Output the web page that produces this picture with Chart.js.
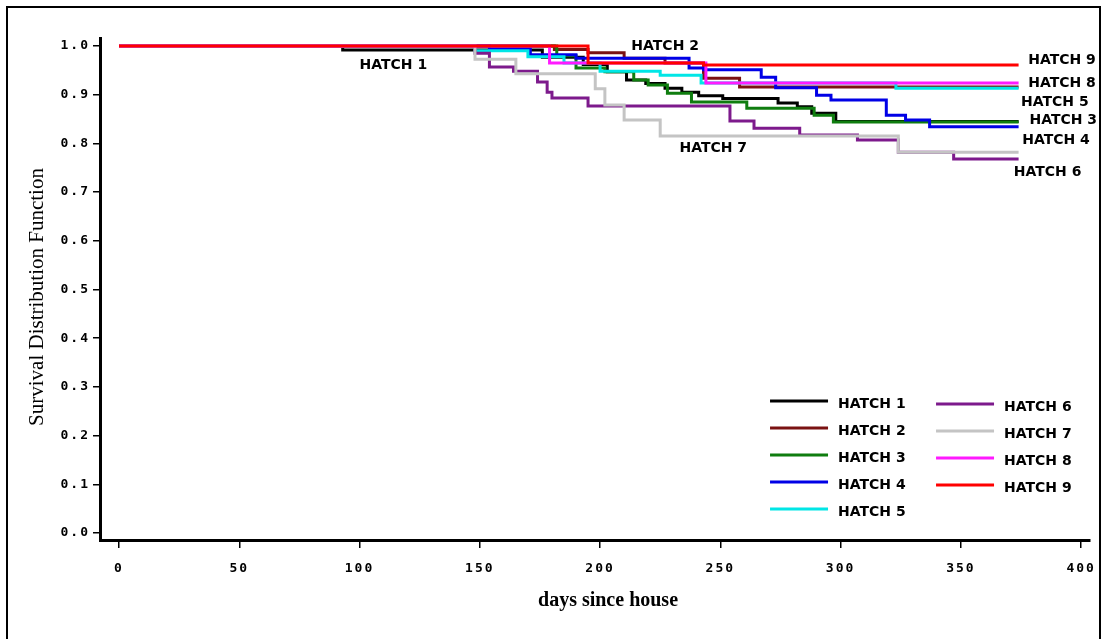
<!DOCTYPE html>
<html>
<head>
<meta charset="utf-8">
<title>Survival Distribution by Hatch</title>
<script src="https://cdn.jsdelivr.net/npm/chart.js@4.4.1/dist/chart.umd.min.js"></script>
<style>
  html, body { margin: 0; padding: 0; background: #fff; }
  #wrap { position: relative; width: 1106px; height: 639px; overflow: hidden; }
  #wrap canvas { position: absolute; left: 0; top: 0; }
  #frame { position: absolute; left: 6px; top: 6px; width: 1095px; height: 700px;
           border: 2px solid #000; box-sizing: border-box; pointer-events: none; }
</style>
</head>
<body>
<div id="wrap">
  <canvas id="survivalChart" width="1106" height="639"></canvas>
  <div id="frame"></div>
</div>
<script>
// Kaplan-Meier step points: day of event and survival from that day on
var hatch1Days = [0, 93, 176, 193, 203, 211, 219, 227, 234, 241, 251, 274, 282, 288, 298, 374];
var hatch1Surv = [1, 0.992, 0.977, 0.962, 0.947, 0.93, 0.923, 0.913, 0.905, 0.898, 0.892, 0.883, 0.875, 0.862, 0.845, 0.845];

var hatch2Days = [0, 181, 195, 210, 227, 243, 258, 374];
var hatch2Surv = [1, 0.993, 0.986, 0.975, 0.965, 0.934, 0.916, 0.916];

var hatch3Days = [0, 182, 190, 202, 214, 220, 228, 238, 261, 289, 297, 374];
var hatch3Surv = [1, 0.98, 0.955, 0.947, 0.93, 0.92, 0.903, 0.885, 0.872, 0.858, 0.844, 0.844];

var hatch4Days = [0, 154, 171, 190, 237, 243, 267, 273, 290, 296, 319, 327, 337, 374];
var hatch4Surv = [1, 0.994, 0.982, 0.975, 0.955, 0.951, 0.936, 0.914, 0.899, 0.889, 0.858, 0.848, 0.834, 0.834];

var hatch5Days = [0, 148, 170, 185, 200, 225, 242, 323, 374];
var hatch5Surv = [1, 0.99, 0.978, 0.965, 0.948, 0.94, 0.924, 0.913, 0.913];

var hatch6Days = [0, 148, 154, 164, 174, 178, 180, 195, 254, 264, 283, 307, 324, 347, 374];
var hatch6Surv = [1, 0.985, 0.957, 0.948, 0.926, 0.905, 0.893, 0.877, 0.846, 0.831, 0.817, 0.807, 0.782, 0.768, 0.768];

var hatch7Days = [0, 148, 165, 198, 202, 210, 225, 324, 374];
var hatch7Surv = [1, 0.973, 0.943, 0.912, 0.879, 0.848, 0.815, 0.782, 0.782];

var hatch8Days = [0, 179, 244, 374];
var hatch8Surv = [1, 0.965, 0.924, 0.924];

var hatch9Days = [0, 195, 243, 374];
var hatch9Surv = [1, 0.965, 0.961, 0.961];

var hatchNames = ['HATCH 1', 'HATCH 2', 'HATCH 3', 'HATCH 4', 'HATCH 5', 'HATCH 6', 'HATCH 7', 'HATCH 8', 'HATCH 9'];
var hatchColors = ['#000000', '#7a1212', '#0f7d0f', '#0000e6', '#00e6e6', '#7d1a8c', '#c4c4c4', '#ff1aff', '#ff0000'];

var dayTicks = [0, 50, 100, 150, 200, 250, 300, 350, 400];
var survTicks = [0, 0.1, 0.2, 0.3, 0.4, 0.5, 0.6, 0.7, 0.8, 0.9, 1.0];

var allDays = [hatch1Days, hatch2Days, hatch3Days, hatch4Days, hatch5Days, hatch6Days, hatch7Days, hatch8Days, hatch9Days];
var allSurv = [hatch1Surv, hatch2Surv, hatch3Surv, hatch4Surv, hatch5Surv, hatch6Surv, hatch7Surv, hatch8Surv, hatch9Surv];

// curve labels placed in data units next to the curves
var curveLabels = [
    { text: 'HATCH 1', day: 100, surv: 0.961 },
    { text: 'HATCH 2', day: 213, surv: 1.0 },
    { text: 'HATCH 7', day: 233, surv: 0.79 },
    { text: 'HATCH 9', day: 378, surv: 0.971 },
    { text: 'HATCH 8', day: 378, surv: 0.924 },
    { text: 'HATCH 5', day: 375, surv: 0.885 },
    { text: 'HATCH 3', day: 378.5, surv: 0.848 },
    { text: 'HATCH 4', day: 375.5, surv: 0.807 },
    { text: 'HATCH 6', day: 372, surv: 0.741 }
];

var labelFont = 'bold 14px "DejaVu Sans"';

var hatchDecor = {
    id: 'hatchDecor',
    beforeDraw: function (chart) {
        // wide spacing for the tick numbers
        chart.ctx.letterSpacing = '2px';
    },
    beforeDatasetsDraw: function (chart) {
        chart.ctx.letterSpacing = '0px';
    },
    afterDraw: function (chart) {
        var ctx = chart.ctx;
        var area = chart.chartArea;
        var xs = chart.scales.x, ys = chart.scales.y;
        ctx.save();
        ctx.letterSpacing = '0px';
        ctx.font = labelFont;
        ctx.fillStyle = '#000';
        ctx.textAlign = 'left';
        ctx.textBaseline = 'middle';
        curveLabels.forEach(function (l) {
            ctx.fillText(l.text, xs.getPixelForValue(l.day), ys.getPixelForValue(l.surv));
        });

        // two column key in the lower right
        chart.data.datasets.forEach(function (ds, i) {
            var col = i < 5 ? 0 : 1;
            var row = col === 0 ? i : i - 5;
            var x0 = col === 0 ? area.right - 320 : area.right - 154;
            var y0 = (col === 0 ? area.bottom - 139 : area.bottom - 136) + row * 27;
            ctx.strokeStyle = ds.borderColor;
            ctx.lineWidth = 3;
            ctx.beginPath();
            ctx.moveTo(x0, y0);
            ctx.lineTo(x0 + 58, y0);
            ctx.stroke();
            ctx.fillText(ds.label, x0 + 68, y0 + 3);
        });

        // axis titles
        ctx.textAlign = 'center';
        ctx.font = '21px "Liberation Serif"';
        ctx.translate(area.left - 63, (area.top + area.bottom) / 2 + 8);
        ctx.rotate(-Math.PI / 2);
        ctx.fillText('Survival Distribution Function', 0, 0);
        ctx.setTransform(1, 0, 0, 1, 0, 0);
        ctx.font = 'bold 20px "Liberation Serif"';
        ctx.fillText('days since house', (area.left + area.right) / 2 + 13, area.bottom + 61);
        ctx.restore();
    }
};

window.onload = function () {
    var datasets = hatchNames.map(function (name, i) {
        return {
            label: name,
            data: allDays[i].map(function (d, j) { return { x: d, y: allSurv[i][j] }; }),
            borderColor: hatchColors[i],
            backgroundColor: hatchColors[i],
            borderWidth: 3,
            pointRadius: 0,
            stepped: true,
            fill: false,
            order: 9 - i
        };
    });

    var ctx = document.getElementById('survivalChart').getContext('2d');
    new Chart(ctx, {
        type: 'line',
        data: { datasets: datasets },
        options: {
            responsive: false,
            animation: false,
            devicePixelRatio: 1,
            layout: { padding: { top: 38, right: 14, left: 0, bottom: 0 } },
            plugins: { legend: { display: false }, tooltip: { enabled: false } },
            scales: {
                x: {
                    type: 'linear',
                    min: -7.9,
                    max: 403.7,
                    afterBuildTicks: function (s) { s.ticks = dayTicks.map(function (v) { return { value: v }; }); },
                    afterFit: function (s) { s.height = 99; },
                    border: { color: '#000', width: 3 },
                    grid: { drawOnChartArea: false, drawTicks: true, tickLength: 8, color: '#000', lineWidth: 1.5 },
                    ticks: {
                        color: '#000', padding: 13, maxRotation: 0,
                        font: { family: 'DejaVu Sans Mono', weight: 'bold', size: 13 },
                        callback: function (v) { return String(v); }
                    }
                },
                y: {
                    type: 'linear',
                    min: -0.0144,
                    max: 1.0164,
                    afterBuildTicks: function (s) { s.ticks = survTicks.map(function (v) { return { value: v }; }); },
                    afterFit: function (s) { s.width = 100; },
                    border: { color: '#000', width: 3 },
                    grid: { drawOnChartArea: false, drawTicks: true, tickLength: 7, color: '#000', lineWidth: 1.5 },
                    ticks: {
                        color: '#000', padding: 3,
                        font: { family: 'DejaVu Sans Mono', weight: 'bold', size: 13 },
                        callback: function (v) { return Number(v).toFixed(1); }
                    }
                }
            }
        },
        plugins: [hatchDecor]
    });
};
</script>
</body>
</html>
